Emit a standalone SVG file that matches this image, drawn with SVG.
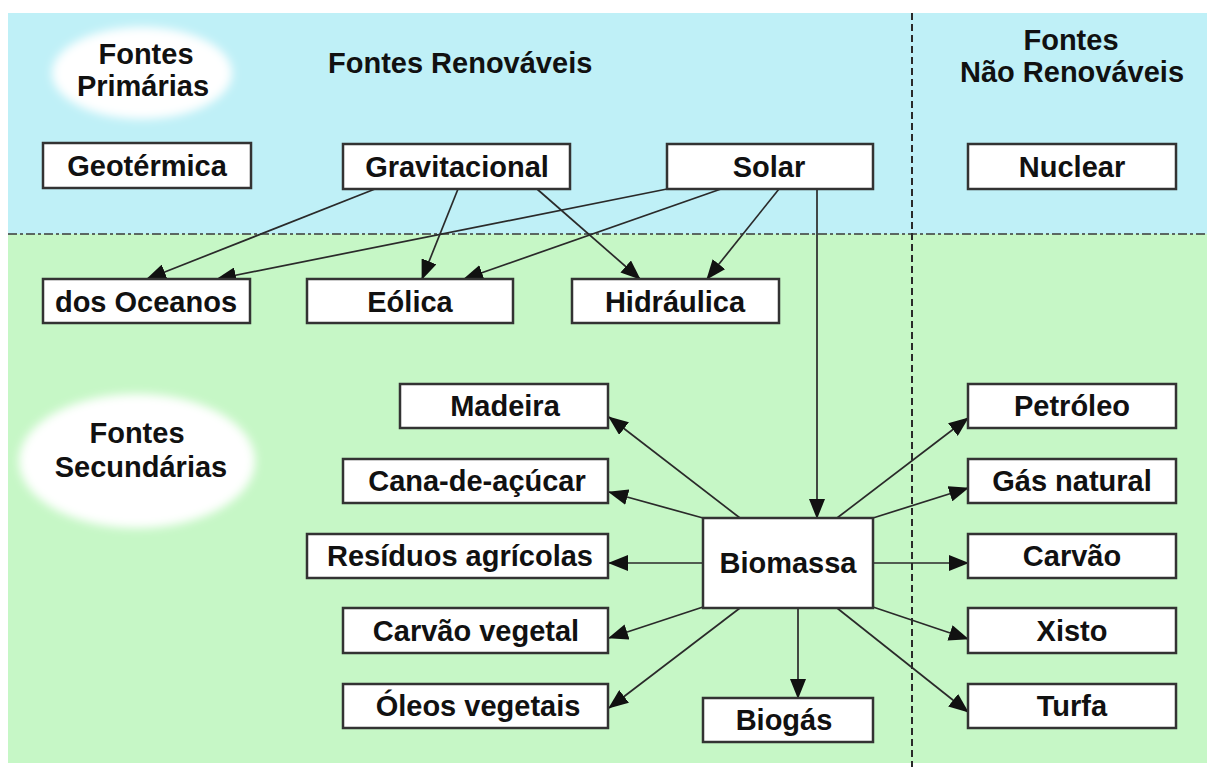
<svg xmlns="http://www.w3.org/2000/svg" width="1207" height="767" viewBox="0 0 1207 767">
<style>
.box{fill:#ffffff;stroke:#333333;stroke-width:2.5}
.lbl{font-family:"Liberation Sans",Arial,sans-serif;font-weight:bold;font-size:29px;fill:#111111;text-anchor:middle}
.hd{font-family:"Liberation Sans",Arial,sans-serif;font-weight:bold;font-size:29px;fill:#111111}
.con{stroke:#2a2a2a;stroke-width:1.7;fill:none;marker-end:url(#ah)}
</style>
<defs>
<marker id="ah" viewBox="0 0 20 16" refX="19" refY="8" markerWidth="20" markerHeight="16" markerUnits="userSpaceOnUse" orient="auto">
<path d="M0,0 L20,8 L0,16 z" fill="#111111"/>
</marker>
<filter id="soft" x="-20%" y="-30%" width="140%" height="160%">
<feGaussianBlur stdDeviation="5"/>
</filter>
</defs>
<rect x="0" y="0" width="1207" height="767" fill="#ffffff"/>
<g id="background">
<rect x="8" y="13" width="1199" height="221" fill="#bff0f7"/>
<rect x="8" y="234" width="1199" height="529" fill="#c6f7c6"/>
<line x1="8" y1="234" x2="1207" y2="234" stroke="#3a3a3a" stroke-width="1.5" stroke-dasharray="9 3 3 3"/>
<line x1="912" y1="13" x2="912" y2="767" stroke="#2a2a2a" stroke-width="2" stroke-dasharray="7 4"/>
</g>
<g id="fontes-primarias">
<ellipse cx="142" cy="73" rx="90" ry="46" fill="#ffffff" filter="url(#soft)"/>
<text class="lbl" x="146" y="64">Fontes</text>
<text class="lbl" x="143" y="96">Primárias</text>
</g>
<g id="fontes-renovaveis">
<text class="hd" x="328" y="73">Fontes Renováveis</text>
</g>
<g id="fontes-nao-renovaveis">
<text class="lbl" x="1071" y="50">Fontes</text>
<text class="lbl" x="1072" y="82">Não Renováveis</text>
</g>
<g id="fontes-secundarias">
<ellipse cx="137" cy="461" rx="118" ry="67" fill="#ffffff" filter="url(#soft)"/>
<text class="lbl" x="137" y="443">Fontes</text>
<text class="lbl" x="141" y="477">Secundárias</text>
</g>
<g id="connectors">
<line class="con" x1="375" y1="189" x2="147" y2="279"/>
<line class="con" x1="667" y1="189" x2="217" y2="279"/>
<line class="con" x1="458" y1="189" x2="422" y2="279"/>
<line class="con" x1="721" y1="189" x2="464" y2="279"/>
<line class="con" x1="537" y1="189" x2="640" y2="279"/>
<line class="con" x1="779" y1="189" x2="707" y2="279"/>
<line class="con" x1="817" y1="189" x2="817" y2="518"/>
<line class="con" x1="740" y1="518" x2="609" y2="417"/>
<line class="con" x1="703" y1="518" x2="609" y2="492"/>
<line class="con" x1="703" y1="563" x2="609" y2="563"/>
<line class="con" x1="703" y1="607" x2="609" y2="638"/>
<line class="con" x1="740" y1="608" x2="609" y2="708"/>
<line class="con" x1="798" y1="608" x2="798" y2="698"/>
<line class="con" x1="837" y1="518" x2="968" y2="418"/>
<line class="con" x1="873" y1="518" x2="968" y2="488"/>
<line class="con" x1="873" y1="563" x2="968" y2="563"/>
<line class="con" x1="873" y1="607" x2="968" y2="639"/>
<line class="con" x1="837" y1="608" x2="968" y2="712"/>
</g>
<g id="geotermica"><rect class="box" x="43" y="143" width="208" height="45"/><text class="lbl" x="147" y="176">Geotérmica</text></g>
<g id="gravitacional"><rect class="box" x="343" y="144" width="227" height="45"/><text class="lbl" x="457" y="177">Gravitacional</text></g>
<g id="solar"><rect class="box" x="667" y="144" width="206" height="45"/><text class="lbl" x="769" y="177">Solar</text></g>
<g id="nuclear"><rect class="box" x="968" y="144" width="208" height="45"/><text class="lbl" x="1072" y="177">Nuclear</text></g>
<g id="dos-oceanos"><rect class="box" x="43" y="279" width="207" height="44"/><text class="lbl" x="146" y="312">dos Oceanos</text></g>
<g id="eolica"><rect class="box" x="307" y="279" width="206" height="44"/><text class="lbl" x="410" y="312">Eólica</text></g>
<g id="hidraulica"><rect class="box" x="572" y="279" width="207" height="44"/><text class="lbl" x="675" y="312">Hidráulica</text></g>
<g id="madeira"><rect class="box" x="400" y="384" width="208" height="44"/><text class="lbl" x="505" y="416">Madeira</text></g>
<g id="cana-de-acucar"><rect class="box" x="343" y="459" width="265" height="44"/><text class="lbl" x="477" y="491">Cana-de-açúcar</text></g>
<g id="residuos-agricolas"><rect class="box" x="307" y="534" width="301" height="44"/><text class="lbl" x="460" y="566">Resíduos agrícolas</text></g>
<g id="carvao-vegetal"><rect class="box" x="343" y="608" width="265" height="45"/><text class="lbl" x="476" y="641">Carvão vegetal</text></g>
<g id="oleos-vegetais"><rect class="box" x="343" y="684" width="265" height="44"/><text class="lbl" x="478" y="716">Óleos vegetais</text></g>
<g id="biomassa"><rect class="box" x="703" y="518" width="170" height="90"/><text class="lbl" x="788" y="573">Biomassa</text></g>
<g id="biogas"><rect class="box" x="703" y="698" width="170" height="44"/><text class="lbl" x="784" y="730">Biogás</text></g>
<g id="petroleo"><rect class="box" x="968" y="384" width="208" height="44"/><text class="lbl" x="1072" y="416">Petróleo</text></g>
<g id="gas-natural"><rect class="box" x="968" y="459" width="208" height="44"/><text class="lbl" x="1072" y="491">Gás natural</text></g>
<g id="carvao"><rect class="box" x="968" y="534" width="208" height="44"/><text class="lbl" x="1072" y="566">Carvão</text></g>
<g id="xisto"><rect class="box" x="968" y="608" width="208" height="45"/><text class="lbl" x="1072" y="641">Xisto</text></g>
<g id="turfa"><rect class="box" x="968" y="684" width="208" height="44"/><text class="lbl" x="1072" y="716">Turfa</text></g>
</svg>
